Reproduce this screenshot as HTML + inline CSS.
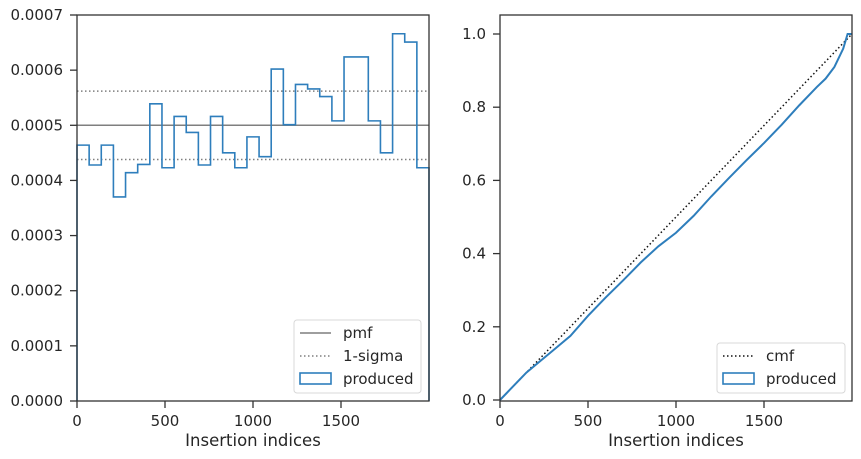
<!DOCTYPE html>
<html><head><meta charset="utf-8"><style>
html,body{margin:0;padding:0;background:#fff}
svg{display:block;font-family:"DejaVu Sans","Liberation Sans",sans-serif}
text{fill:#262626}
</style></head><body>
<svg id="c" width="861" height="459" xmlns="http://www.w3.org/2000/svg"></svg>
<script>
// Left histogram data (values in units of 1e-4)
const binCount = 29;
const pmfValues = [4.64,4.28,4.64,3.70,4.14,4.29,5.39,4.23,5.16,4.87,4.28,5.16,4.50,4.23,4.79,4.43,6.02,5.01,5.74,5.66,5.52,5.08,6.24,6.24,5.08,4.50,6.66,6.51,4.23];
const pmfLevel = 5.0;
const sigmaLevels = [4.38,5.62];
const leftYTicks = [0,1,2,3,4,5,6,7];
const leftYLabels = ["0.0000","0.0001","0.0002","0.0003","0.0004","0.0005","0.0006","0.0007"];
const xTicks = [0,500,1000,1500];
// Right cdf data
const cdfX = [0,50,100,150,200,300,400,500,600,700,800,900,1000,1100,1200,1300,1400,1500,1600,1700,1800,1850,1900,1950,1975,2000];
const cdfY = [0,0.025,0.05,0.075,0.095,0.135,0.175,0.23,0.28,0.327,0.376,0.42,0.457,0.503,0.556,0.606,0.655,0.702,0.752,0.805,0.855,0.878,0.91,0.96,1.0,1.0];
const rightYTicks = [0,0.2,0.4,0.6,0.8,1.0];
const rightYLabels = ["0.0","0.2","0.4","0.6","0.8","1.0"];

const NS="http://www.w3.org/2000/svg";
const svg=document.getElementById('c');
function mk(tag,attrs,parent){const e=document.createElementNS(NS,tag);for(const k in attrs)e.setAttribute(k,attrs[k]);(parent||svg).appendChild(e);return e;}

const L={x0:77,x1:429,y0:401,y1:15};
const lx=v=>L.x0+v/2000*(L.x1-L.x0);
const ly=v=>L.y0-v/7*(L.y0-L.y1);
const R={x0:500,x1:852,y0:401,y1:15};
const rx=v=>R.x0+v/2000*(R.x1-R.x0);
const ry=v=>400-v*366;

const gl=mk('g',{});


const pl=mk('line',{x1:L.x0,x2:L.x1,y1:ly(pmfLevel),y2:ly(pmfLevel),stroke:'#7f7f7f','stroke-width':1.5},gl);


sigmaLevels.forEach((s,i)=>{
  const l=mk('line',{x1:L.x0,x2:L.x1,y1:ly(s),y2:ly(s),stroke:'#7f7f7f','stroke-width':1.5,'stroke-dasharray':'1.5,2.5'},gl);
  
  
});
let d='';
const bw=2000/binCount;
pmfValues.forEach((v,i)=>{
  const xa=lx(i*bw),xb=lx((i+1)*bw),y=ly(v);
  d+=(i===0?`M${xa},${L.y0}L${xa},${y}`:`L${xa},${y}`)+`L${xb},${y}`;
});
d+=`L${lx(2000)},${L.y0}`;
const hp=mk('path',{d:d,fill:'none',stroke:'#2e7ebc','stroke-width':1.6},gl);



function axes(A,g,yt,yl,yf,xf,name){
  const fr=mk('rect',{x:A.x0,y:A.y1,width:A.x1-A.x0,height:A.y0-A.y1,fill:'none',stroke:'#333','stroke-width':1.3},g);
  
  
  yt.forEach((v,i)=>{
    const y=yf(v);
    mk('line',{x1:A.x0-7,x2:A.x0,y1:y,y2:y,stroke:'#333','stroke-width':1.3},g);
    const t=mk('text',{x:A.x0-14,y:y+5,'text-anchor':'end','font-size':15},g);
    t.textContent=yl[i];
    
    
  });
  xTicks.forEach(v=>{
    const x=xf(v);
    mk('line',{x1:x,x2:x,y1:A.y0,y2:A.y0+7,stroke:'#333','stroke-width':1.3},g);
    const t=mk('text',{x:x,y:A.y0+25,'text-anchor':'middle','font-size':15},g);
    t.textContent=String(v);
    
    
  });
  const xt=mk('text',{x:(A.x0+A.x1)/2,y:446,'text-anchor':'middle','font-size':16.5},g);
  xt.textContent='Insertion indices';
  
  
}
axes(L,gl,leftYTicks,leftYLabels,ly,lx,'left-axes');

const lg=mk('g',{},gl);


mk('rect',{x:294,y:320,width:127,height:73,rx:3,fill:'#fff','fill-opacity':0.8,stroke:'#d8d8d8'},lg);
mk('line',{x1:300,x2:331,y1:333,y2:333,stroke:'#7f7f7f','stroke-width':1.5},lg);
mk('line',{x1:300,x2:331,y1:356,y2:356,stroke:'#7f7f7f','stroke-width':1.5,'stroke-dasharray':'1.5,2.5'},lg);
mk('rect',{x:300,y:373,width:31,height:11,fill:'none',stroke:'#2e7ebc','stroke-width':1.6},lg);
[['pmf',338],['1-sigma',361],['produced',384]].forEach(([s,y])=>{
  const t=mk('text',{x:343,y:y,'font-size':15},lg);t.textContent=s;
  
  
});

const gr=mk('g',{});


const cl=mk('line',{x1:rx(0),y1:ry(0),x2:rx(2000),y2:ry(1),stroke:'#111','stroke-width':1.5,'stroke-dasharray':'1.5,2.5'},gr);


const cd=cdfX.map((x,i)=>(i?'L':'M')+rx(x)+','+ry(cdfY[i])).join('');
const cp=mk('path',{d:cd,fill:'none',stroke:'#2e7ebc','stroke-width':2},gr);


axes(R,gr,rightYTicks,rightYLabels,ry,rx,'right-axes');
const rg=mk('g',{},gr);


mk('rect',{x:717,y:343,width:128,height:50,rx:3,fill:'#fff','fill-opacity':0.8,stroke:'#d8d8d8'},rg);
mk('line',{x1:723,x2:754,y1:356,y2:356,stroke:'#111','stroke-width':1.5,'stroke-dasharray':'1.5,2.5'},rg);
mk('rect',{x:723,y:373,width:31,height:11,fill:'none',stroke:'#2e7ebc','stroke-width':1.6},rg);
[['cmf',361],['produced',384]].forEach(([s,y])=>{
  const t=mk('text',{x:766,y:y,'font-size':15},rg);t.textContent=s;
  
  
});
</script>
</body></html>
